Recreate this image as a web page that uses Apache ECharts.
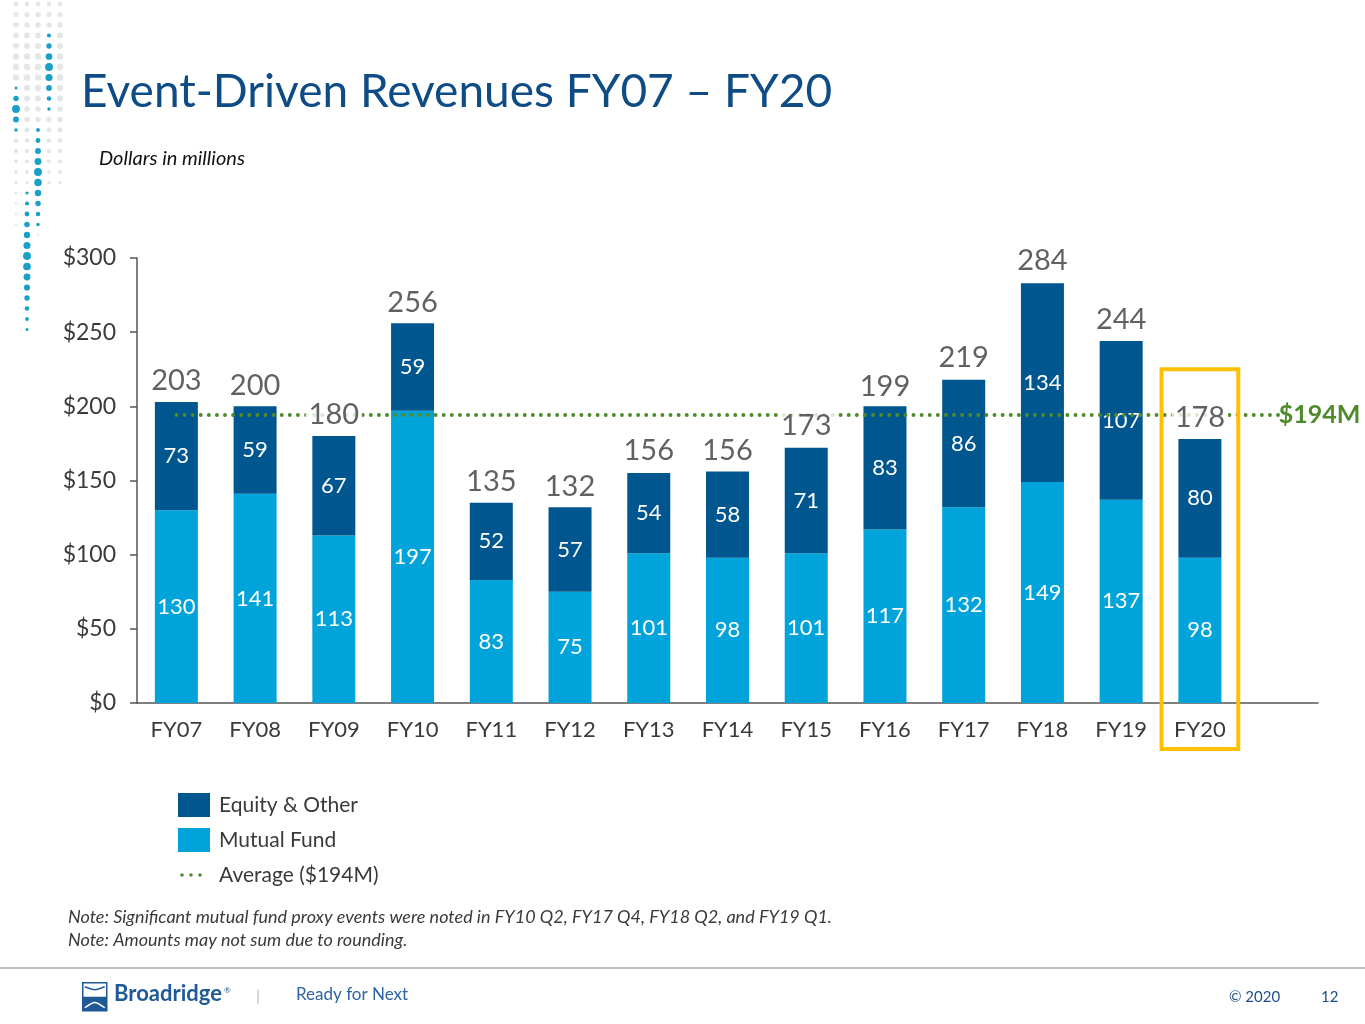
<!DOCTYPE html>
<html>
<head>
<meta charset="utf-8">
<title>Event-Driven Revenues FY07 – FY20</title>
<script src="https://cdn.jsdelivr.net/npm/echarts@6/dist/echarts.min.js"></script>
<style>
  html, body { margin: 0; padding: 0; background: #fff; }
  #chart { width: 1365px; height: 1024px; }
</style>
</head>
<body>
<div id="chart"></div>
<script>
// data (dollars in millions)
var categories = ['FY07', 'FY08', 'FY09', 'FY10', 'FY11', 'FY12', 'FY13', 'FY14', 'FY15', 'FY16', 'FY17', 'FY18', 'FY19', 'FY20'];
var mutualFund = [130, 141, 113, 197, 83, 75, 101, 98, 101, 117, 132, 149, 137, 98];
var equityOther = [73, 59, 67, 59, 52, 57, 54, 58, 71, 83, 86, 134, 107, 80];
var totals = [203, 200, 180, 256, 135, 132, 156, 156, 173, 199, 219, 284, 244, 178];
var average = 194;
var highlightCategory = 'FY20';

var FONT = 'Lato, "Open Sans", sans-serif';
var DARK = '#00568F';
var LIGHT = '#00A3DA';
var GREEN = '#4F8A2C';
var TEXT = '#3A3A3A';

var chart = echarts.init(document.getElementById('chart'));

// three dots for the average legend entry; the two specks pin the box to 32x24
var dotsIcon = 'path://M0,0h0.01v0.01h-0.01z M32,24h0.01v0.01h-0.01z ' +
    'M2.2,12a1.8,1.8 0 1,0 3.6,0a1.8,1.8 0 1,0 -3.6,0z ' +
    'M11.2,12a1.8,1.8 0 1,0 3.6,0a1.8,1.8 0 1,0 -3.6,0z ' +
    'M20.2,12a1.8,1.8 0 1,0 3.6,0a1.8,1.8 0 1,0 -3.6,0z';

var option = {
    animation: false,
    textStyle: { fontFamily: FONT },
    title: [
        {
            text: 'Event-Driven Revenues FY07 – FY20',
            left: 76, top: 64,
            textStyle: { fontFamily: FONT, fontSize: 46, fontWeight: 'normal', color: '#0F4C86' }
        },
        {
            text: 'Dollars in millions',
            left: 94, top: 144,
            textStyle: { fontFamily: FONT, fontSize: 20, fontStyle: 'italic', fontWeight: 'normal', color: '#111' }
        }
    ],
    legend: {
        orient: 'vertical',
        left: 178, top: 793,
        padding: 0,
        itemWidth: 32, itemHeight: 24, itemGap: 11,
        selectedMode: false,
        textStyle: { fontFamily: FONT, fontSize: 21, color: TEXT, padding: [0, 0, 0, 4] },
        data: [
            { name: 'Equity & Other', icon: 'rect' },
            { name: 'Mutual Fund', icon: 'rect' },
            { name: 'Average ($194M)', icon: dotsIcon }
        ]
    },
    grid: { left: 137, right: 47, top: 258, bottom: 321 },
    xAxis: {
        type: 'category',
        data: categories.concat(['']),
        axisLine: { lineStyle: { color: '#555', width: 1.5 } },
        axisTick: { show: false },
        axisLabel: { fontFamily: FONT, fontSize: 22, color: TEXT, margin: 16 }
    },
    yAxis: {
        type: 'value',
        min: 0, max: 300, interval: 50,
        axisLine: { show: true, lineStyle: { color: '#555', width: 1.5 } },
        axisTick: { show: true, length: 7, lineStyle: { color: '#555', width: 1.5 } },
        splitLine: { show: false },
        axisLabel: {
            fontFamily: FONT, fontSize: 23, color: TEXT, margin: 21,
            formatter: function (v) { return '$' + v; }
        }
    },
    series: [
        {
            name: 'Mutual Fund',
            type: 'bar',
            stack: 'rev',
            barWidth: 43,
            z: 2,
            itemStyle: { color: LIGHT },
            label: { show: true, position: 'inside', color: '#fff', fontFamily: FONT, fontSize: 22 },
            data: mutualFund
        },
        {
            name: 'Equity & Other',
            type: 'bar',
            stack: 'rev',
            barWidth: 43,
            z: 4,
            itemStyle: { color: DARK },
            label: { show: true, position: 'inside', color: '#fff', fontFamily: FONT, fontSize: 22 },
            data: equityOther
        },
        {
            name: 'Average ($194M)',
            type: 'line',
            z: 3,
            data: [],
            itemStyle: { color: GREEN },
            lineStyle: { color: GREEN },
            markLine: {
                silent: true,
                symbol: 'none',
                lineStyle: { color: GREEN, width: 3.8, type: [0.1, 8], cap: 'round' },
                label: {
                    show: true, position: 'end', distance: 0,
                    formatter: '$' + average + 'M',
                    color: GREEN, fontFamily: FONT, fontSize: 25, fontWeight: 'bold'
                },
                data: [[{ coord: [0, average] }, { coord: [categories.length, average] }]]
            }
        },
        {
            name: 'Total',
            type: 'scatter',
            z: 5,
            silent: true,
            symbolSize: 1,
            itemStyle: { color: 'rgba(0,0,0,0)' },
            label: {
                show: true, position: 'top', distance: 6,
                color: TEXT, fontFamily: FONT, fontSize: 29,
                backgroundColor: '#fff', padding: [0, 3, 0, 3]
            },
            data: totals
        }
    ]
};

chart.setOption(option);

// decorative dot column in the top left corner
function cornerDots() {
    var out = [];
    var cols = [
        { x: 16, teal: [88, 132], gray: [4, 230] },
        { x: 27, teal: [190, 330], gray: [4, 270] },
        { x: 38, teal: [120, 230], gray: [4, 240] },
        { x: 49, teal: [26, 112], gray: [4, 190] },
        { x: 60, teal: null, gray: [4, 185] }
    ];
    cols.forEach(function (c) {
        for (var y = 4; y <= 332; y += 10.5) {
            var inTeal = c.teal && y >= c.teal[0] && y <= c.teal[1];
            var inGray = y >= c.gray[0] && y <= c.gray[1];
            if (!inTeal && !inGray) continue;
            var r;
            if (inTeal) {
                var mid = (c.teal[0] + c.teal[1]) / 2;
                var half = (c.teal[1] - c.teal[0]) / 2;
                r = 1.5 + 2.6 * Math.max(0, 1 - Math.abs(y - mid) / half);
            } else {
                r = 1.2 + 2.2 * Math.max(0, 1 - Math.abs(y - 70) / 150);
            }
            out.push({
                type: 'circle',
                shape: { cx: c.x, cy: y, r: r },
                style: { fill: inTeal ? '#1AA0C8' : '#E4E6E8' },
                silent: true
            });
        }
    });
    return out;
}

// highlight box round the latest year, placed through the axes
var idx = categories.indexOf(highlightCategory);
var cx = chart.convertToPixel({ xAxisIndex: 0 }, idx);
var band = chart.convertToPixel({ xAxisIndex: 0 }, idx + 1) - cx;
var boxTop = chart.convertToPixel({ yAxisIndex: 0 }, 225);
var boxBottom = chart.convertToPixel({ yAxisIndex: 0 }, -31);

var graphics = cornerDots().concat([
    {
        type: 'rect',
        shape: { x: cx - band / 2 + 1, y: boxTop, width: band - 2, height: boxBottom - boxTop },
        style: { fill: 'none', stroke: '#FFC000', lineWidth: 4 },
        z: 10, silent: true
    },
    {
        type: 'text', left: 68, top: 908,
        style: {
            text: 'Note: Significant mutual fund proxy events were noted in FY10 Q2, FY17 Q4, FY18 Q2, and FY19 Q1.',
            font: 'italic 18px ' + FONT, fill: TEXT
        }
    },
    {
        type: 'text', left: 68, top: 931,
        style: { text: 'Note: Amounts may not sum due to rounding.', font: 'italic 18px ' + FONT, fill: TEXT }
    },
    {
        type: 'line',
        shape: { x1: 0, y1: 968, x2: 1365, y2: 968 },
        style: { stroke: '#BDBDBD', lineWidth: 2 },
        silent: true
    },
    // logo mark
    {
        type: 'group', left: 82, top: 982,
        children: [
            { type: 'rect', shape: { x: 0, y: 0, width: 24, height: 28 }, style: { fill: '#fff', stroke: '#1F5A96', lineWidth: 1.5 } },
            { type: 'rect', shape: { x: 0, y: 14, width: 24, height: 14 }, style: { fill: '#1F5A96' } },
            { type: 'bezierCurve', shape: { x1: 2, y1: 4, x2: 22, y2: 4, cpx1: 12, cpy1: 8, cpx2: 12, cpy2: 8 }, style: { stroke: '#1F5A96', lineWidth: 1.5, fill: 'none' } },
            { type: 'bezierCurve', shape: { x1: 2, y1: 25, x2: 22, y2: 25, cpx1: 12, cpy1: 18, cpx2: 12, cpy2: 18 }, style: { stroke: '#fff', lineWidth: 1.5, fill: 'none' } }
        ]
    },
    {
        type: 'text', left: 114, top: 983,
        style: { text: 'Broadridge', font: 'bold 22px ' + FONT, fill: '#1F5A96' }
    },
    {
        type: 'text', left: 224, top: 986,
        style: { text: '®', font: '8px ' + FONT, fill: '#1F5A96' }
    },
    {
        type: 'text', left: 256, top: 988,
        style: { text: '|', font: '16px ' + FONT, fill: '#BBBBBB' }
    },
    {
        type: 'text', left: 296, top: 986,
        style: { text: 'Ready for Next', font: '17px ' + FONT, fill: '#2F63A3' }
    },
    {
        type: 'text', left: 1229, top: 990,
        style: { text: '© 2020', font: '15px ' + FONT, fill: '#1F4E8A' }
    },
    {
        type: 'text', left: 1321, top: 990,
        style: { text: '12', font: '15px ' + FONT, fill: '#1F4E8A' }
    }
]);

chart.setOption({ graphic: graphics });
</script>
</body>
</html>
